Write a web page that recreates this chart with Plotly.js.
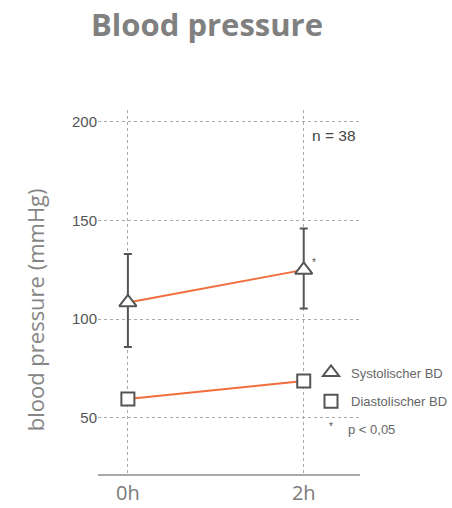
<!DOCTYPE html>
<html>
<head>
<meta charset="utf-8">
<script src="https://cdn.plot.ly/plotly-3.0.1.min.js"></script>
<style>html,body{margin:0;padding:0;background:#fff;}#chart{width:452px;height:508px;}</style>
</head>
<body>
<div id="chart"></div>
<script>
const timepoints = ["0h", "2h"];
const systolicMean = [108.5, 125];
const systolicErrPlus = [24.5, 21];
const systolicErrMinus = [22.5, 19.5];
const diastolicMean = [59.6, 68.7];
const yTicks = [50, 100, 150, 200];
const seriesNames = ["Systolischer BD", "Diastolischer BD"];
const sampleLabel = "n = 38";
const sigLabel = "p < 0,05";

const grey = "#555555";
const orange = "#F26D3D";

const traces = [
  {
    x: timepoints, y: systolicMean, type: "scatter", mode: "lines+markers",
    line: {color: orange, width: 2},
    marker: {symbol: "triangle-up", size: 15, color: "#ffffff", line: {color: grey, width: 2}},
    error_y: {type: "data", symmetric: false, array: systolicErrPlus, arrayminus: systolicErrMinus,
              visible: true, color: grey, thickness: 2, width: 4},
    showlegend: false, cliponaxis: false
  },
  {
    x: timepoints, y: diastolicMean, type: "scatter", mode: "lines+markers",
    line: {color: orange, width: 2},
    marker: {symbol: "square", size: 13, color: "#ffffff", line: {color: grey, width: 2}},
    showlegend: false, cliponaxis: false
  },
  {
    x: [null], y: [null], type: "scatter", mode: "markers", name: seriesNames[0],
    legendgroup: "a",
    marker: {symbol: "triangle-up", size: 14, color: "#ffffff", line: {color: grey, width: 2}}
  },
  {
    x: [null], y: [null], type: "scatter", mode: "markers", name: seriesNames[1],
    legendgroup: "b",
    marker: {symbol: "square", size: 13, color: "#ffffff", line: {color: grey, width: 2}}
  }
];

const layout = {
  width: 452, height: 508,
  margin: {l: 98, r: 92, t: 110, b: 34, autoexpand: false},
  paper_bgcolor: "#ffffff", plot_bgcolor: "#ffffff",
  title: {
    text: "<b>Blood pressure</b>",
    font: {family: "Open Sans", size: 31, color: "#808080"},
    x: 0.458, xanchor: "center", xref: "container",
    y: 0.95, yanchor: "middle", yref: "container"
  },
  xaxis: {
    type: "category", range: [-0.17, 1.32],
    showgrid: true, gridcolor: "#aaaaaa", griddash: "dot", gridwidth: 1,
    showline: true, linecolor: "#aaaaaa", linewidth: 1.5,
    zeroline: false, ticks: "",
    tickfont: {family: "Open Sans", size: 20, color: "#7a7a7a"}
  },
  yaxis: {
    range: [21.6, 206], tickvals: yTicks, ticktext: yTicks.map(String),
    showgrid: true, gridcolor: "#aaaaaa", griddash: "dot", gridwidth: 1,
    showline: false, zeroline: false, ticks: "", ticklen: 6,
    tickfont: {family: "Liberation Sans", size: 15, color: "#555555"}
  },
  legend: {
    x: 0.813, y: 0.32, xanchor: "left", yanchor: "top",
    font: {family: "Liberation Sans", size: 13, color: "#666666"},
    bgcolor: "rgba(0,0,0,0)", tracegroupgap: 9, itemwidth: 30
  },
  annotations: [
    {xref: "paper", yref: "paper", x: -0.24, y: 0.45, text: "blood pressure (mmHg)",
     textangle: -90, showarrow: false, xanchor: "center", yanchor: "middle",
     font: {family: "Open Sans", size: 22, color: "#858585"}},
    {xref: "x", yref: "y", x: timepoints[1], y: 193, text: sampleLabel, showarrow: false,
     xanchor: "left", yanchor: "middle", xshift: 6,
     font: {family: "Liberation Sans", size: 15.5, color: "#444444"}},
    {xref: "x", yref: "y", x: timepoints[1], y: systolicMean[1], text: "*", showarrow: false,
     xanchor: "left", yanchor: "middle", xshift: 6, yshift: 7,
     font: {family: "Liberation Sans", size: 10, color: "#555555"}},
    {xref: "paper", yref: "paper", x: 0.889, y: 0.13, text: "*", showarrow: false,
     xanchor: "center", yanchor: "middle",
     font: {family: "Liberation Sans", size: 10, color: "#555555"}},
    {xref: "paper", yref: "paper", x: 0.946, y: 0.121, text: sigLabel, showarrow: false,
     xanchor: "left", yanchor: "middle",
     font: {family: "Liberation Sans", size: 13, color: "#666666"}}
  ]
};

Plotly.newPlot("chart", traces, layout, {displayModeBar: false, staticPlot: true});
</script>
</body>
</html>
